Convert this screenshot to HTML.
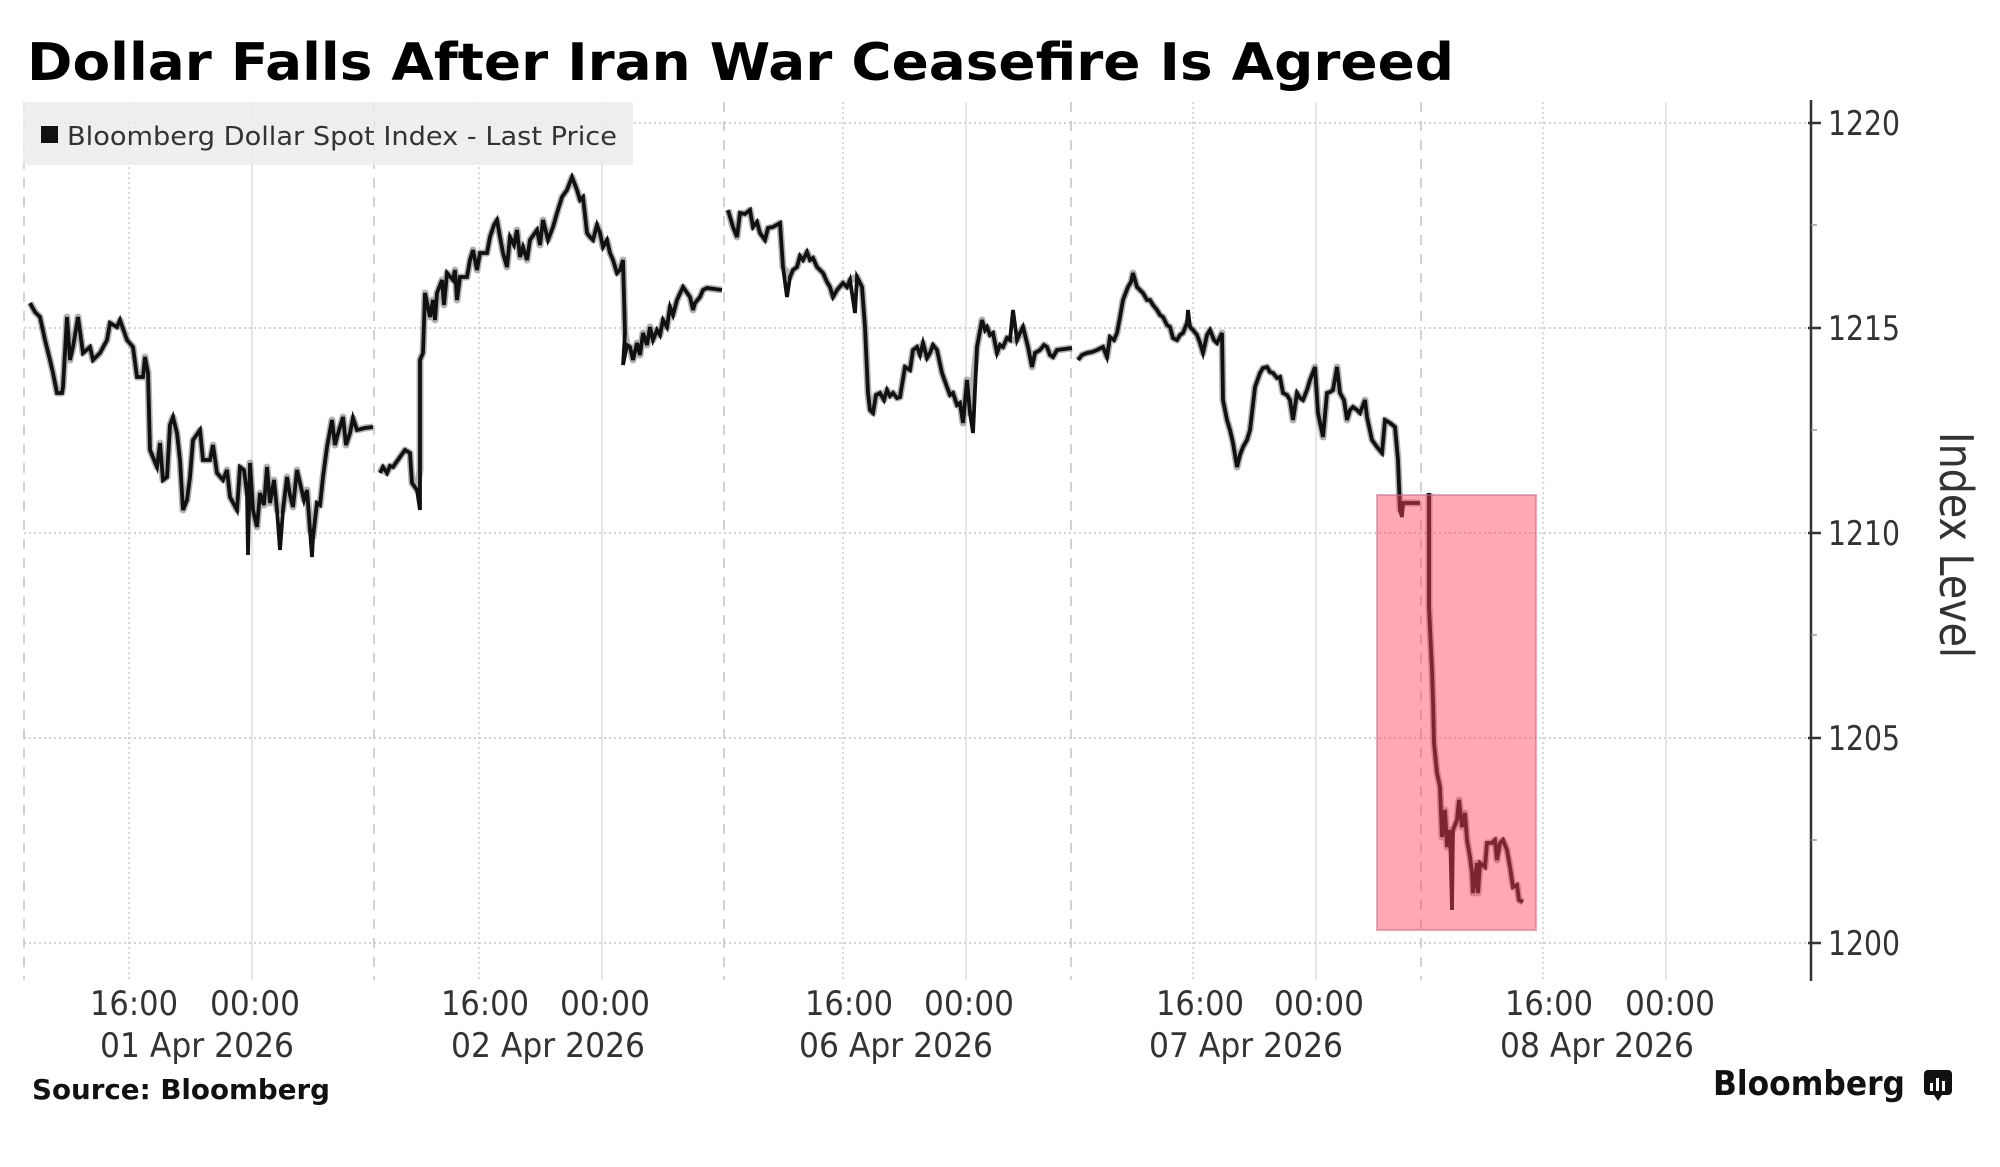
<!DOCTYPE html>
<html>
<head>
<meta charset="utf-8">
<style>
html,body{margin:0;padding:0;background:#fff;}
svg{display:block;}
text{font-family:"DejaVu Sans","Liberation Sans",sans-serif;}
</style>
</head>
<body>
<svg width="2000" height="1167" viewBox="0 0 2000 1167" xmlns="http://www.w3.org/2000/svg">
<rect x="0" y="0" width="2000" height="1167" fill="#ffffff"/>

<!-- Title -->
<text x="27" y="80" font-size="52" font-weight="bold" fill="#000" textLength="1427" lengthAdjust="spacingAndGlyphs">Dollar Falls After Iran War Ceasefire Is Agreed</text>

<!-- Horizontal gridlines -->
<g stroke="#c4c4c4" stroke-width="1.5" stroke-dasharray="2,3">
<line x1="24" y1="123" x2="1811" y2="123"/>
<line x1="24" y1="328" x2="1811" y2="328"/>
<line x1="24" y1="533" x2="1811" y2="533"/>
<line x1="24" y1="738" x2="1811" y2="738"/>
<line x1="24" y1="943" x2="1811" y2="943"/>
</g>

<!-- Vertical gridlines: session boundaries (dashed) -->
<g stroke="#c4c4c4" stroke-width="1.5" stroke-dasharray="10,9">
<line x1="24" y1="102" x2="24" y2="980"/>
<line x1="374" y1="102" x2="374" y2="980"/>
<line x1="724" y1="102" x2="724" y2="980"/>
<line x1="1071" y1="102" x2="1071" y2="980"/>
<line x1="1421" y1="102" x2="1421" y2="980"/>
</g>
<!-- 16:00 dotted -->
<g stroke="#cccccc" stroke-width="1.5" stroke-dasharray="2,3">
<line x1="129" y1="102" x2="129" y2="980"/>
<line x1="479" y1="102" x2="479" y2="980"/>
<line x1="843" y1="102" x2="843" y2="980"/>
<line x1="1193" y1="102" x2="1193" y2="980"/>
<line x1="1543" y1="102" x2="1543" y2="980"/>
</g>
<!-- 00:00 solid -->
<g stroke="#dddddd" stroke-width="1.5">
<line x1="252" y1="102" x2="252" y2="980"/>
<line x1="602" y1="102" x2="602" y2="980"/>
<line x1="966" y1="102" x2="966" y2="980"/>
<line x1="1316" y1="102" x2="1316" y2="980"/>
<line x1="1666" y1="102" x2="1666" y2="980"/>
</g>

<!-- Legend -->
<rect x="23" y="102" width="610" height="63" fill="#ececec" fill-opacity="0.85"/>
<rect x="41" y="126" width="17" height="17" fill="#111"/>
<text x="67" y="145" font-size="26" fill="#333" textLength="550" lengthAdjust="spacingAndGlyphs">Bloomberg Dollar Spot Index - Last Price</text>

<!-- Data series: soft underlay to mimic noisy thick trace -->
<g fill="none" stroke="#555" stroke-opacity="0.45" stroke-width="7" stroke-linejoin="round">
<polyline points="30,303 35,312 40,317 45,340 50,360 53,373 57,393 62,393 63,387 67,317 70,360 73,347 78,317 83,353 90,347 93,360 100,353 107,340 110,323 117,327 120,320 127,340 133,347 137,377 143,377 145,357 148,373 150,450 157,467 160,443 163,480 167,477 170,425 173,417 177,433 180,460 183,510 187,500 190,477 193,440 200,430 203,460 210,460 213,445 217,473 223,480 227,470 230,497 237,510 240,467 244,470 247,493 250,463 253,510 257,527 260,493 264,505 267,467 270,503 274,480 277,510 283,510 287,477 290,495 293,507 297,470 300,483 304,500 307,490 310,530 313,537 317,503 320,505 323,477 327,447 332,420 335,445 337,437 343,417 346,445 350,433 353,418 357,430 365,428 373,427"/>
<polyline points="380,473 383,467 387,473 390,466 393,467 400,457 405,450 410,453 412,483 417,490 420,470 420,360 423,353 425,293 430,317 433,300 435,320 437,293 442,280 444,305 447,273 453,280 455,270 457,300 460,277 467,277 470,260 473,250 477,270 480,253 487,253 490,237 494,225 497,220 500,237 503,253 507,267 510,237 514,245 517,230 520,257 523,247 527,260 530,240 537,230 540,245 543,220 548,240 553,227 557,213 562,197 567,190 572,177 577,190 580,200 583,197 587,233 590,237 593,240 597,225 600,233 603,247 607,240 610,253 613,260 617,273 620,270 623,260 625,333 627,345 630,347 633,360 637,343 640,355 643,333 647,345 650,327 653,340 657,330 660,335 663,320 667,327 670,307 673,315 677,300 683,287 690,297 693,310 695,303 700,297 703,290 707,288 722,290"/>
<polyline points="728,210 733,227 737,237 740,213 745,214 750,210 753,227 757,222 760,233 765,240 768,228 773,227 780,223 783,267 790,277 793,270 797,267 800,256 803,260 807,252 810,260 813,258 817,267 823,273 827,282 830,287 833,297 837,290 843,283 847,287 850,280 857,277 862,287 865,327 868,393 870,410 873,413 876,395 880,393 884,400 887,390 890,396 893,393 897,398 900,397 905,367 910,370 913,350 917,347 920,355 923,343 927,358 930,353 933,345 937,350 942,373 947,387 950,395 953,393 957,405 960,403 963,423 967,380 970,413 977,347 982,320 985,330 987,327 990,335 993,333 997,353 1000,345 1003,347 1007,338 1010,340 1017,340 1020,333 1023,327 1028,347 1032,367 1035,353 1040,350 1044,345 1047,347 1050,355 1053,357 1057,350 1072,348"/>
<polyline points="1078,360 1082,355 1087,353 1092,352 1097,350 1103,347 1107,357 1110,337 1114,340 1117,333 1120,317 1123,300 1128,287 1131,282 1133,273 1137,287 1140,290 1143,293 1147,300 1150,300 1153,305 1157,310 1160,315 1163,317 1167,325 1170,327 1173,338 1177,340 1180,335 1183,333 1187,323 1190,327 1193,330 1197,335 1200,343 1203,353 1207,335 1210,330 1214,340 1217,343 1222,333 1223,400 1227,420 1230,430 1233,443 1237,467 1240,455 1243,447 1247,440 1250,430 1255,387 1260,373 1263,368 1267,367 1270,372 1273,373 1277,378 1280,377 1283,393 1287,395 1290,400 1293,420 1297,393 1300,398 1303,400 1307,390 1310,380 1315,367 1318,413 1323,437 1327,393 1330,392 1333,390 1337,367 1340,393 1344,400 1347,420 1350,410 1353,407 1357,410 1360,413 1365,400 1367,417 1372,440 1377,447 1382,453 1385,420 1390,423 1395,427 1398,460 1400,510 1403,503 1420,503"/>
<polyline points="1429,493 1429,607 1432,670 1433,700 1434,743 1437,773 1440,787 1442,837 1445,810 1447,847 1450,830 1453,830 1457,820 1459,800 1462,827 1465,813 1467,840 1470,857 1472,873 1473,893 1477,863 1478,893 1480,863 1485,867 1487,843 1492,843 1495,840 1497,860 1500,843 1503,840 1507,850 1510,867 1513,887 1517,885 1519,900 1523,902"/>
</g>

<g fill="none" stroke="#111" stroke-width="3.8" stroke-linejoin="miter" stroke-linecap="butt">
<polyline points="30,303 35,312 40,317 45,340 50,360 53,373 57,393 62,393 63,387 67,317 70,360 73,347 78,317 83,353 90,347 93,360 100,353 107,340 110,323 117,327 120,320 127,340 133,347 137,377 143,377 145,357 148,373 150,450 157,467 160,443 163,480 167,477 170,425 173,417 177,433 180,460 183,510 187,500 190,477 193,440 200,430 203,460 210,460 213,445 217,473 223,480 227,470 230,497 237,510 240,467 244,470 247,493 248,555 250,463 253,510 257,527 260,493 264,505 267,467 270,503 274,480 277,510 280,550 283,510 287,477 290,495 293,507 297,470 300,483 304,500 307,490 310,530 312,557 313,537 317,503 320,505 323,477 327,447 332,420 335,445 337,437 343,417 346,445 350,433 353,418 357,430 365,428 373,427"/>
<polyline points="380,473 383,467 387,473 390,466 393,467 400,457 405,450 410,453 412,483 417,490 420,510 420,360 423,353 425,293 430,317 433,300 435,320 437,293 442,280 444,305 447,273 453,280 455,270 457,300 460,277 467,277 470,260 473,250 477,270 480,253 487,253 490,237 494,225 497,220 500,237 503,253 507,267 510,237 514,245 517,230 520,257 523,247 527,260 530,240 537,230 540,245 543,220 548,240 553,227 557,213 562,197 567,190 572,177 577,190 580,200 583,197 587,233 590,237 593,240 597,225 600,233 603,247 607,240 610,253 613,260 617,273 620,270 623,260 625,333 623,365 627,345 630,347 633,360 637,343 640,355 643,333 647,345 650,327 653,340 657,330 660,335 663,320 667,327 670,307 673,315 677,300 683,287 690,297 693,310 695,303 700,297 703,290 707,288 722,290"/>
<polyline points="728,210 733,227 737,237 740,213 745,214 750,210 753,227 757,222 760,233 765,240 768,228 773,227 780,223 783,267 787,297 790,277 793,270 797,267 800,256 803,260 807,252 810,260 813,258 817,267 823,273 827,282 830,287 833,297 837,290 843,283 847,287 850,280 855,313 857,277 862,287 865,327 868,393 870,410 873,413 876,395 880,393 884,400 887,390 890,396 893,393 897,398 900,397 905,367 910,370 913,350 917,347 920,355 923,343 927,358 930,353 933,345 937,350 942,373 947,387 950,395 953,393 957,405 960,403 963,423 967,380 970,413 973,433 977,347 982,320 985,330 987,327 990,335 993,333 997,353 1000,345 1003,347 1007,338 1010,340 1013,310 1017,340 1020,333 1023,327 1028,347 1032,367 1035,353 1040,350 1044,345 1047,347 1050,355 1053,357 1057,350 1072,348"/>
<polyline points="1078,360 1082,355 1087,353 1092,352 1097,350 1103,347 1107,357 1110,337 1114,340 1117,333 1120,317 1123,300 1128,287 1131,282 1133,273 1137,287 1140,290 1143,293 1147,300 1150,300 1153,305 1157,310 1160,315 1163,317 1167,325 1170,327 1173,338 1177,340 1180,335 1183,333 1187,323 1188,310 1190,327 1193,330 1197,335 1200,343 1203,353 1207,335 1210,330 1214,340 1217,343 1222,333 1223,400 1227,420 1230,430 1233,443 1237,467 1240,455 1243,447 1247,440 1250,430 1255,387 1260,373 1263,368 1267,367 1270,372 1273,373 1277,378 1280,377 1283,393 1287,395 1290,400 1293,420 1297,393 1300,398 1303,400 1307,390 1310,380 1315,367 1318,413 1323,437 1327,393 1330,392 1333,390 1337,367 1340,393 1344,400 1347,420 1350,410 1353,407 1357,410 1360,413 1365,400 1367,417 1372,440 1377,447 1382,453 1385,420 1390,423 1395,427 1398,460 1400,510 1402,517 1403,503 1420,503"/>
<polyline points="1429,493 1429,607 1432,670 1433,700 1434,743 1437,773 1440,787 1442,837 1445,810 1447,847 1450,830 1452,910 1453,830 1457,820 1459,800 1462,827 1465,813 1467,840 1470,857 1472,873 1473,893 1477,863 1478,893 1480,863 1485,867 1487,843 1492,843 1495,840 1497,860 1500,843 1503,840 1507,850 1510,867 1513,887 1517,885 1519,900 1523,902"/>
</g>

<!-- Highlight box -->
<rect x="1377" y="495" width="159" height="435" fill="#ff405b" fill-opacity="0.45" stroke="#d0607a" stroke-opacity="0.5" stroke-width="2"/>

<!-- Right axis -->
<line x1="1811" y1="100" x2="1811" y2="981" stroke="#333" stroke-width="2.5"/>
<g stroke="#333" stroke-width="2.5">
<line x1="1808" y1="123" x2="1821" y2="123"/>
<line x1="1808" y1="328" x2="1821" y2="328"/>
<line x1="1808" y1="533" x2="1821" y2="533"/>
<line x1="1808" y1="738" x2="1821" y2="738"/>
<line x1="1808" y1="943" x2="1821" y2="943"/>
</g>
<g stroke="#999" stroke-width="1.5">
<line x1="1811" y1="225" x2="1817" y2="225"/>
<line x1="1811" y1="430" x2="1817" y2="430"/>
<line x1="1811" y1="635" x2="1817" y2="635"/>
<line x1="1811" y1="840" x2="1817" y2="840"/>
</g>
<g font-size="34" fill="#333">
<text x="1828" y="135" textLength="72" lengthAdjust="spacingAndGlyphs">1220</text>
<text x="1828" y="340" textLength="72" lengthAdjust="spacingAndGlyphs">1215</text>
<text x="1828" y="545" textLength="72" lengthAdjust="spacingAndGlyphs">1210</text>
<text x="1828" y="750" textLength="72" lengthAdjust="spacingAndGlyphs">1205</text>
<text x="1828" y="955" textLength="72" lengthAdjust="spacingAndGlyphs">1200</text>
</g>
<text transform="translate(1940,545) rotate(90)" x="0" y="0" text-anchor="middle" font-size="46" fill="#333" textLength="226" lengthAdjust="spacingAndGlyphs">Index Level</text>

<!-- X axis labels -->
<g font-size="34" fill="#333" text-anchor="middle">
<text x="134" y="1015" textLength="88" lengthAdjust="spacingAndGlyphs">16:00</text>
<text x="255" y="1015" textLength="90" lengthAdjust="spacingAndGlyphs">00:00</text>
<text x="485" y="1015" textLength="88" lengthAdjust="spacingAndGlyphs">16:00</text>
<text x="605" y="1015" textLength="90" lengthAdjust="spacingAndGlyphs">00:00</text>
<text x="849" y="1015" textLength="88" lengthAdjust="spacingAndGlyphs">16:00</text>
<text x="969" y="1015" textLength="90" lengthAdjust="spacingAndGlyphs">00:00</text>
<text x="1200" y="1015" textLength="88" lengthAdjust="spacingAndGlyphs">16:00</text>
<text x="1319" y="1015" textLength="90" lengthAdjust="spacingAndGlyphs">00:00</text>
<text x="1549" y="1015" textLength="88" lengthAdjust="spacingAndGlyphs">16:00</text>
<text x="1670" y="1015" textLength="90" lengthAdjust="spacingAndGlyphs">00:00</text>

<text x="197" y="1057" textLength="194" lengthAdjust="spacingAndGlyphs">01 Apr 2026</text>
<text x="548" y="1057" textLength="194" lengthAdjust="spacingAndGlyphs">02 Apr 2026</text>
<text x="896" y="1057" textLength="194" lengthAdjust="spacingAndGlyphs">06 Apr 2026</text>
<text x="1246" y="1057" textLength="194" lengthAdjust="spacingAndGlyphs">07 Apr 2026</text>
<text x="1597" y="1057" textLength="194" lengthAdjust="spacingAndGlyphs">08 Apr 2026</text>
</g>

<!-- Footer -->
<text x="32" y="1099" font-size="28" font-weight="bold" fill="#111" textLength="298" lengthAdjust="spacingAndGlyphs">Source: Bloomberg</text>
<text x="1713" y="1095" font-size="34" font-weight="bold" fill="#111" textLength="192" lengthAdjust="spacingAndGlyphs">Bloomberg</text>
<g>
<rect x="1924" y="1070" width="28" height="25" rx="4" fill="#111"/>
<polygon points="1934,1095 1942,1095 1938,1101" fill="#111"/>
<rect x="1930" y="1083" width="3" height="8" fill="#fff"/>
<rect x="1936" y="1078" width="3" height="13" fill="#fff"/>
<rect x="1942" y="1081" width="3" height="10" fill="#fff"/>
</g>
</svg>
</body>
</html>
